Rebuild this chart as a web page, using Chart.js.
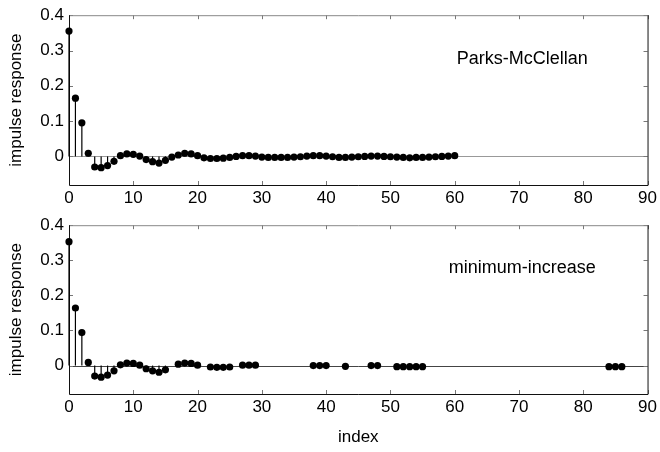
<!DOCTYPE html>
<html>
<head>
<meta charset="utf-8">
<script src="https://cdn.jsdelivr.net/npm/chart.js@4"></script>
<style>
  body { margin: 0; background: #fff; }
  #wrap { position: relative; width: 660px; height: 452px; }
  canvas { position: absolute; left: 0; }
</style>
</head>
<body>
<div id="wrap">
  <canvas id="topChart" width="660" height="210" style="top:0"></canvas>
  <canvas id="bottomChart" width="660" height="242" style="top:210px"></canvas>
</div>
<script>
// Parks-McClellan impulse response, samples 0..60
var pmIndex = [0,1,2,3,4,5,6,7,8,9,10,11,12,13,14,15,16,17,18,19,20,
  21,22,23,24,25,26,27,28,29,30,31,32,33,34,35,36,37,38,39,40,
  41,42,43,44,45,46,47,48,49,50,51,52,53,54,55,56,57,58,59,60];
var pmValue = [0.355,0.165,0.095,0.009,-0.030,-0.032,-0.026,-0.014,0.002,0.007,0.006,0.001,-0.009,-0.015,-0.019,-0.011,-0.002,0.004,0.009,0.007,0.002,
  -0.004,-0.006,-0.006,-0.005,-0.003,0,0.002,0.002,0.001,-0.002,-0.003,-0.003,-0.003,-0.003,-0.002,-0.001,0.001,0.002,0.002,0.001,
  -0.001,-0.003,-0.003,-0.002,-0.001,0,0.001,0.001,0,-0.001,-0.002,-0.003,-0.004,-0.003,-0.003,-0.002,-0.001,0,0.001,0.002];

// minimum-increase impulse response, only the nonzero taps
var miIndex = [0,1,2,3,4,5,6,7,8,9,10,11,12,13,14,15,17,18,19,20,22,23,24,25,27,28,29,38,39,40,43,47,48,51,52,53,54,55,84,85,86];
var miValue = [0.353,0.164,0.094,0.009,-0.030,-0.033,-0.027,-0.015,0.002,0.007,0.006,0.001,-0.009,-0.015,-0.019,-0.012,
  0.004,0.007,0.006,0.001,-0.004,-0.005,-0.005,-0.004,0.001,0.001,0.001,0,0,0,-0.002,0,0,-0.003,-0.003,-0.003,-0.003,-0.003,-0.003,-0.003,-0.003];

var xTicks = [0,10,20,30,40,50,60,70,80,90];
var yTicks = [0,0.1,0.2,0.3,0.4];

var FONT = 'Liberation Sans, Arial, sans-serif';

// stems, frame, inward tick marks and the label inside the axes
var stemPlugin = {
  id: 'stems',
  beforeDatasetsDraw: function(chart) {
    var ctx = chart.ctx, x = chart.scales.x, y = chart.scales.y, a = chart.chartArea;
    ctx.save();
    // baseline
    ctx.strokeStyle = chart.options.plugins.stems.baseColor;
    ctx.lineWidth = 1;
    ctx.beginPath();
    ctx.moveTo(a.left, Math.round(y.getPixelForValue(0)) + 0.5);
    ctx.lineTo(a.right, Math.round(y.getPixelForValue(0)) + 0.5);
    ctx.stroke();
    // tick marks pointing in
    ctx.strokeStyle = '#777';
    xTicks.forEach(function(t) {
      var px = Math.round(x.getPixelForValue(t)) + 0.5;
      ctx.beginPath();
      ctx.moveTo(px, a.bottom); ctx.lineTo(px, a.bottom - 4);
      ctx.moveTo(px, a.top); ctx.lineTo(px, a.top + 4);
      ctx.stroke();
    });
    yTicks.forEach(function(t) {
      var py = Math.round(y.getPixelForValue(t)) + 0.5;
      ctx.beginPath();
      ctx.moveTo(a.left, py); ctx.lineTo(a.left + 4, py);
      ctx.moveTo(a.right, py); ctx.lineTo(a.right - 4, py);
      ctx.stroke();
    });
    // frame
    ctx.strokeStyle = '#888';
    ctx.beginPath();
    ctx.moveTo(a.left, a.top + 0.5); ctx.lineTo(a.right, a.top + 0.5);
    ctx.stroke();
    ctx.strokeStyle = '#111';
    ctx.beginPath();
    ctx.moveTo(a.left + 0.5, a.top); ctx.lineTo(a.left + 0.5, a.bottom + 0.5);
    ctx.lineTo(a.right + 0.5, a.bottom + 0.5); ctx.lineTo(a.right + 0.5, a.top);
    ctx.stroke();
    // stems
    ctx.strokeStyle = '#000';
    ctx.lineWidth = 1.2;
    chart.data.datasets[0].data.forEach(function(p) {
      var px = x.getPixelForValue(p.x);
      ctx.beginPath();
      ctx.moveTo(px, y.getPixelForValue(0));
      ctx.lineTo(px, y.getPixelForValue(p.y));
      ctx.stroke();
    });
    ctx.restore();
  },
  afterDraw: function(chart) {
    var o = chart.options.plugins.stems, ctx = chart.ctx;
    ctx.save();
    ctx.fillStyle = '#000';
    ctx.font = '18px ' + FONT;
    ctx.textAlign = 'center';
    ctx.textBaseline = 'middle';
    ctx.fillText(o.text, chart.scales.x.getPixelForValue(70.5), chart.scales.y.getPixelForValue(0.277));
    ctx.restore();
  }
};

function stemChart(id, idx, vals, text, baseColor, xAxisHeight, showTitle) {
  var pts = idx.map(function(v, i) { return { x: v, y: vals[i] }; });
  return new Chart(document.getElementById(id).getContext('2d'), {
    type: 'scatter',
    data: {
      datasets: [{
        data: pts,
        pointRadius: 3.6,
        pointHoverRadius: 3.6,
        backgroundColor: '#000',
        borderWidth: 0,
        clip: false
      }]
    },
    options: {
      responsive: false,
      animation: false,
      events: [],
      layout: { padding: { top: 11, right: 11, left: 0, bottom: 0 } },
      plugins: {
        legend: { display: false },
        tooltip: { enabled: false },
        stems: { text: text, baseColor: baseColor }
      },
      scales: {
        x: {
          type: 'linear',
          min: 0, max: 90,
          afterBuildTicks: function(s) { s.ticks = xTicks.map(function(v) { return { value: v }; }); },
          afterFit: function(s) { s.height = xAxisHeight; },
          grid: { display: false, drawTicks: false },
          border: { display: false },
          ticks: { color: '#000', font: { family: FONT, size: 17 }, padding: 3, maxRotation: 0 },
          title: { display: showTitle, text: 'index', color: '#000', font: { family: FONT, size: 17 }, padding: { top: 4, bottom: 4 } }
        },
        y: {
          min: -0.081, max: 0.4,
          afterBuildTicks: function(s) { s.ticks = yTicks.map(function(v) { return { value: v }; }); },
          afterFit: function(s) { s.width = 69; },
          grid: { display: false, drawTicks: false },
          border: { display: false },
          ticks: {
            color: '#000', font: { family: FONT, size: 17 }, padding: 5,
            callback: function(v) { return v === 0 ? '0' : v.toFixed(1); }
          },
          title: { display: true, text: 'impulse response', color: '#000', font: { family: FONT, size: 17 }, padding: { top: 6, bottom: 4 } }
        }
      }
    },
    plugins: [stemPlugin]
  });
}

stemChart('topChart', pmIndex, pmValue, 'Parks-McClellan', '#999', 25, false);
stemChart('bottomChart', miIndex, miValue, 'minimum-increase', '#444', 58, true);
</script>
</body>
</html>
